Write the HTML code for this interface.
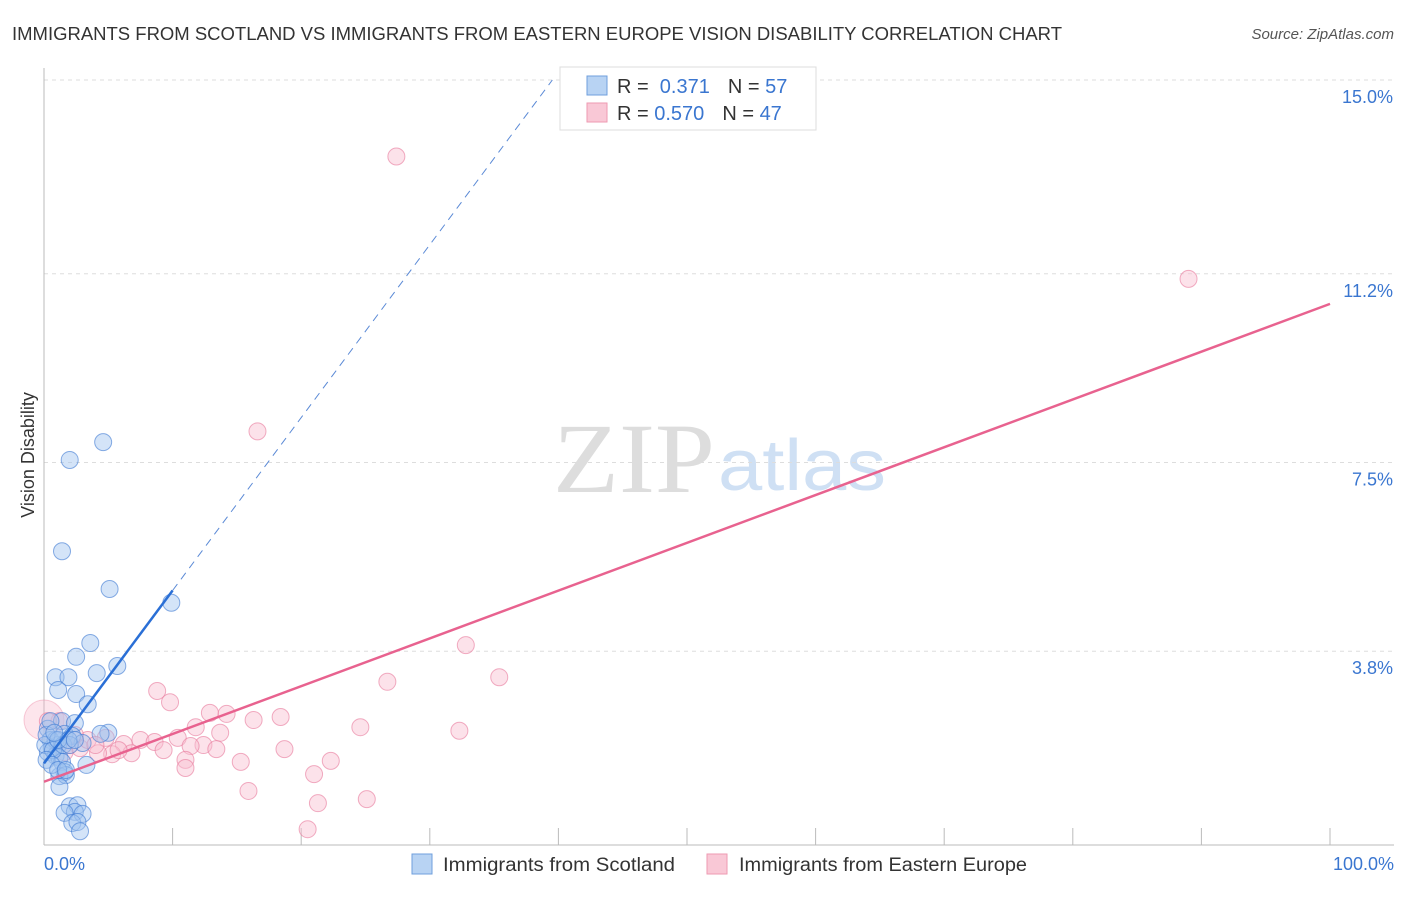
<!DOCTYPE html>
<html><head><meta charset="utf-8">
<style>
body{margin:0;background:#fff;font-family:"Liberation Sans",sans-serif;}
svg text{font-family:"Liberation Sans",sans-serif;}
svg text.serif{font-family:"Liberation Serif",serif;}
</style></head>
<body>
<svg id="chart" width="1406" height="892" xmlns="http://www.w3.org/2000/svg">
<text x="12" y="40" font-size="18" fill="#333" textLength="1050" lengthAdjust="spacingAndGlyphs">IMMIGRANTS FROM SCOTLAND VS IMMIGRANTS FROM EASTERN EUROPE VISION DISABILITY CORRELATION CHART</text>
<text x="1394" y="39" font-size="15" fill="#555" font-style="italic" text-anchor="end">Source: ZipAtlas.com</text>
<text x="34" y="455" font-size="18" fill="#333" transform="rotate(-90 34 455)" text-anchor="middle">Vision Disability</text>
<text class="serif" x="553" y="492" font-size="100" fill="#ddd" textLength="162" lengthAdjust="spacingAndGlyphs">ZIP</text>
<text x="718" y="490" font-size="72" fill="#cfe0f4" textLength="168" lengthAdjust="spacingAndGlyphs">atlas</text>
<g id="grid"></g><g id="pts"></g><g id="lines"></g>
<g>
<rect x="560" y="67" width="256" height="63" fill="#fff" stroke="#ddd"/>
<rect x="587" y="76" width="20" height="19" fill="#b8d3f3" stroke="#6f9fdc"/>
<rect x="587" y="103" width="20" height="19" fill="#f9c8d6" stroke="#ee9ab2"/>
<text x="617" y="93" font-size="20" fill="#333">R = <tspan fill="#3a76d0">&#160;0.371</tspan><tspan dx="18">N = </tspan><tspan fill="#3a76d0">57</tspan></text>
<text x="617" y="120" font-size="20" fill="#333">R = <tspan fill="#3a76d0">0.570</tspan><tspan dx="18">N = </tspan><tspan fill="#3a76d0">47</tspan></text>
</g>
<g>
<rect x="412" y="854" width="20" height="20" fill="#b8d3f3" stroke="#6f9fdc"/>
<text x="443" y="871" font-size="19" fill="#333" textLength="232" lengthAdjust="spacingAndGlyphs">Immigrants from Scotland</text>
<rect x="707" y="854" width="20" height="20" fill="#f9c8d6" stroke="#ee9ab2"/>
<text x="739" y="871" font-size="19" fill="#333" textLength="288" lengthAdjust="spacingAndGlyphs">Immigrants from Eastern Europe</text>
</g>
<text x="44" y="870" font-size="18" fill="#3a76d0">0.0%</text>
<text x="1394" y="870" font-size="18" fill="#3a76d0" text-anchor="end">100.0%</text>
</svg>
<script>
const yTicks=[15.0,11.2,7.5,3.8];
const yTickLabels=["15.0%","11.2%","7.5%","3.8%"];
const xTicks=[10,20,30,40,50,60,70,80,90,100];
const scotX=[2.0,4.6,1.4,5.1,9.9,3.6,2.5,5.7,4.1,0.9,1.9,1.1,2.5,3.4,1.4,2.4,5.0,0.3,1.6,2.2,3.0,0.5,1.1,0.6,0.3,0.9,1.2,1.4,3.3,1.6,1.2,1.7,1.2,2.0,2.6,2.4,1.6,3.0,2.2,2.6,2.8,0.9,0.1,0.2,0.5,0.7,1.5,2.0,4.4,0.2,1.1,1.9,0.6,1.1,1.7,2.4,0.8];
const scotY=[7.55,7.9,5.76,5.02,4.75,3.96,3.69,3.51,3.37,3.29,3.29,3.04,2.96,2.76,2.43,2.39,2.2,2.28,2.18,2.14,2.0,2.06,1.96,1.9,1.82,1.75,1.71,1.63,1.57,1.43,1.35,1.37,1.14,0.76,0.78,0.65,0.63,0.61,0.43,0.45,0.27,2.06,1.96,2.16,2.43,1.86,1.96,1.96,2.18,1.67,2.06,2.06,1.57,1.47,1.47,2.06,2.2];
const eeX=[27.4,89.0,16.6,32.8,26.7,35.4,8.8,9.8,12.9,14.2,16.3,18.4,11.8,24.6,32.3,13.7,10.4,7.5,8.6,4.8,12.4,13.4,18.7,6.2,9.3,11.4,6.8,5.3,4.2,5.8,11.0,15.3,22.3,11.0,21.0,15.9,21.3,25.1,20.5,1.2,2.0,2.8,3.4,1.6,2.4,4.0,0.3];
const eeY=[13.5,11.1,8.11,3.92,3.2,3.29,3.02,2.8,2.59,2.57,2.45,2.51,2.31,2.31,2.24,2.2,2.1,2.06,2.02,2.1,1.96,1.88,1.88,1.98,1.86,1.94,1.8,1.78,1.8,1.86,1.67,1.63,1.65,1.51,1.39,1.06,0.82,0.90,0.31,2.43,1.96,1.90,2.06,1.82,2.16,1.96,2.43];
const scotFit=[1.6,0.339];
const eeFit=[1.24,0.0937];
const X=v=>44+v*12.86, Y=v=>845-v*51;
const NS="http://www.w3.org/2000/svg";
function mk(t,a,p){const e=document.createElementNS(NS,t);for(const k in a)e.setAttribute(k,a[k]);p.appendChild(e);return e;}
const grid=document.getElementById('grid');
yTicks.forEach((t,i)=>{
 const l=mk('line',{x1:44,x2:1394,y1:Y(t),y2:Y(t),stroke:'#ddd','stroke-dasharray':'4,4'},grid);
 
 
 const tx=mk('text',{x:1393,y:Y(t)+23,'font-size':18,fill:'#3a76d0','text-anchor':'end'},grid);
 tx.textContent=yTickLabels[i];
 
 
});
const ax=mk('line',{x1:44,x2:1394,y1:845,y2:845,stroke:'#bbb'},grid);


const ay=mk('line',{x1:44,x2:44,y1:68,y2:845,stroke:'#bbb'},grid);


xTicks.forEach(t=>{
 const l=mk('line',{x1:X(t),x2:X(t),y1:828,y2:845,stroke:'#bbb'},grid);
 
 
});
const pts=document.getElementById('pts');
const big=mk('circle',{cx:X(0),cy:Y(2.45),r:20,fill:'rgba(249,180,200,0.35)',stroke:'rgba(236,130,160,0.4)'},pts);


eeX.forEach((x,i)=>{
 const c=mk('circle',{cx:X(x),cy:Y(eeY[i]),r:8.5,fill:'rgba(249,190,208,0.45)',stroke:'rgba(232,120,155,0.6)'},pts);
 
 
});
scotX.forEach((x,i)=>{
 const c=mk('circle',{cx:X(x),cy:Y(scotY[i]),r:8.5,fill:'rgba(160,195,240,0.45)',stroke:'rgba(60,120,210,0.6)'},pts);
 
 
});
const lines=document.getElementById('lines');
let l=mk('line',{x1:X(0),y1:Y(scotFit[0]),x2:X(10),y2:Y(scotFit[0]+10*scotFit[1]),stroke:'#2a6fd6','stroke-width':2.5},lines);


const xe=(15-scotFit[0])/scotFit[1];
l=mk('line',{x1:X(10),y1:Y(scotFit[0]+10*scotFit[1]),x2:X(xe),y2:Y(15),stroke:'#5b8ad6','stroke-width':1,'stroke-dasharray':'8,6'},lines);


l=mk('line',{x1:X(0),y1:Y(eeFit[0]),x2:X(100),y2:Y(eeFit[0]+100*eeFit[1]),stroke:'#e8628f','stroke-width':2.5},lines);


</script>
</body></html>
